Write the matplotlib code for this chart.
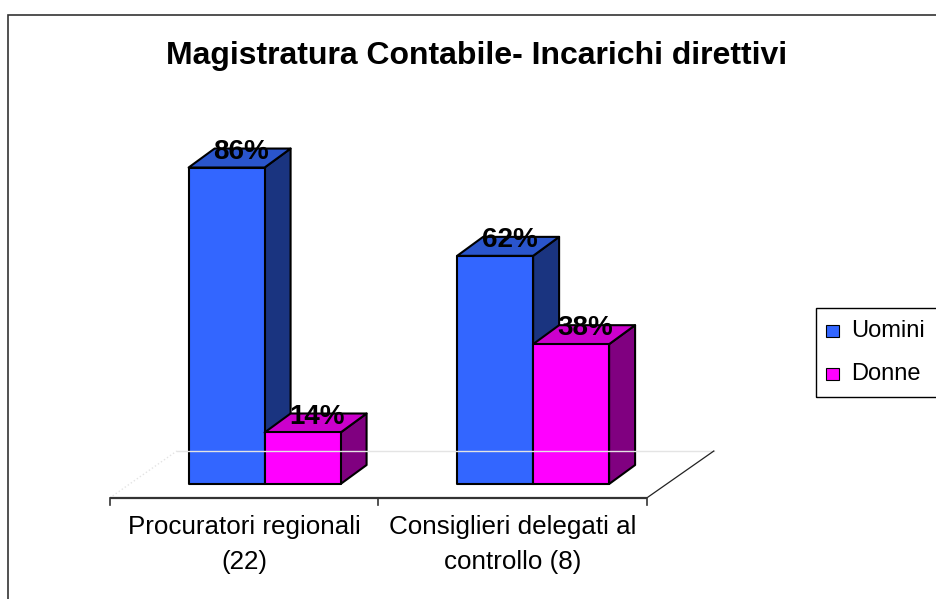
import matplotlib
matplotlib.use('Agg')
import matplotlib.pyplot as plt
from matplotlib.patches import Polygon, Rectangle

plt.rcParams['font.family'] = ['Liberation Sans', 'DejaVu Sans']

#data
categories = ['Procuratori regionali\n(22)', 'Consiglieri delegati al\ncontrollo (8)']
series = ['Uomini', 'Donne']
uomini = [86, 62]
donne = [14, 38]
values = [uomini, donne]

front_colors = ['#3366FF', '#FF00FF']
top_colors = ['#2A55CC', '#CC00CC']
side_colors = ['#1A3480', '#800080']

W, H = 936, 599
fig = plt.figure(figsize=(W / 100, H / 100), dpi=100)

def fx(px):
    return px / W

def fy(py):
    return 1 - py / H

#outer chart frame (runs off the right and bottom edge)
fig.patches.append(Rectangle((fx(8), fy(610)), fx(940) - fx(8), fy(15) - fy(610),
                             transform=fig.transFigure, fill=False,
                             edgecolor='#333333', lw=1.2))

ax = fig.add_axes([fx(100), fy(520), fx(760) - fx(100), fy(130) - fy(520)])
ax.set_xlim(-0.536, 1.922)
ax.set_ylim(-9.78, 96.2)
ax.axis('off')

#fake 3d geometry (data units)
bar_w = 0.283
depth_x, depth_y = 0.0968, 5.16
floor_front, floor_back = -3.8, 8.97
floor_dx = 0.25
shift = 0.077  # bars sit inside the floor depth

n = len(categories)
x0, x1 = -0.5, n - 0.5

#floor
ax.plot([x0 + floor_dx, x1 + floor_dx], [floor_back, floor_back], color='#E4E4E4', lw=1)
ax.plot([x0, x0 + floor_dx], [floor_front, floor_back], color='#E4E4E4', lw=1, ls=':')
ax.plot([x1, x1 + floor_dx], [floor_front, floor_back], color='#222222', lw=0.9)
ax.plot([x0, x1], [floor_front, floor_front], color='#333333', lw=1.6, solid_capstyle='butt')
for i in range(n + 1):
    xt = x0 + i
    ax.plot([xt, xt], [floor_front, floor_front - 2.0], color='#333333', lw=1.2)

def draw_box(left, h, k):
    right = left + bar_w
    front = Polygon([(left, 0), (right, 0), (right, h), (left, h)], closed=True,
                    facecolor=front_colors[k], edgecolor='black', lw=1.5, joinstyle='round')
    top = Polygon([(left, h), (right, h), (right + depth_x, h + depth_y), (left + depth_x, h + depth_y)],
                  closed=True, facecolor=top_colors[k], edgecolor='black', lw=1.5, joinstyle='round')
    side = Polygon([(right, 0), (right + depth_x, depth_y), (right + depth_x, h + depth_y), (right, h)],
                   closed=True, facecolor=side_colors[k], edgecolor='black', lw=1.5, joinstyle='round')
    ax.add_patch(side)
    ax.add_patch(top)
    ax.add_patch(front)

for c in range(n):
    for k in range(len(series)):
        left = c + shift - bar_w + k * bar_w
        draw_box(left, values[k][c], k)

#percentage labels on top of the bars
for c in range(n):
    for k in range(len(series)):
        left = c + shift - bar_w + k * bar_w
        v = values[k][c]
        ax.text(left + bar_w / 2 + depth_x * 0.55, v + 2.4, '%d%%' % v,
                ha='center', va='baseline', fontsize=20, fontweight='bold', color='black')

#category labels
for c in range(n):
    ax.text(c, -8.3, categories[c], ha='center', va='top', fontsize=18.7,
            linespacing=1.6, clip_on=False)

#title
fig.text(fx(477), fy(56), 'Magistratura Contabile- Incarichi direttivi',
         ha='center', va='center', fontsize=23, fontweight='bold')

#legend box drawn by hand
fig.patches.append(Rectangle((fx(816), fy(397)), fx(945) - fx(816), fy(308) - fy(397),
                             transform=fig.transFigure, fill=False,
                             edgecolor='black', lw=1))
for k, name in enumerate(series):
    yc = 331 + k * 43
    fig.patches.append(Rectangle((fx(826), fy(yc + 6)), fx(13), fy(0) - fy(12),
                                 transform=fig.transFigure, facecolor=front_colors[k],
                                 edgecolor='black', lw=0.8))
    fig.text(fx(851), fy(yc), name, ha='left', va='center', fontsize=17)

fig.savefig('out.png', dpi=100)
